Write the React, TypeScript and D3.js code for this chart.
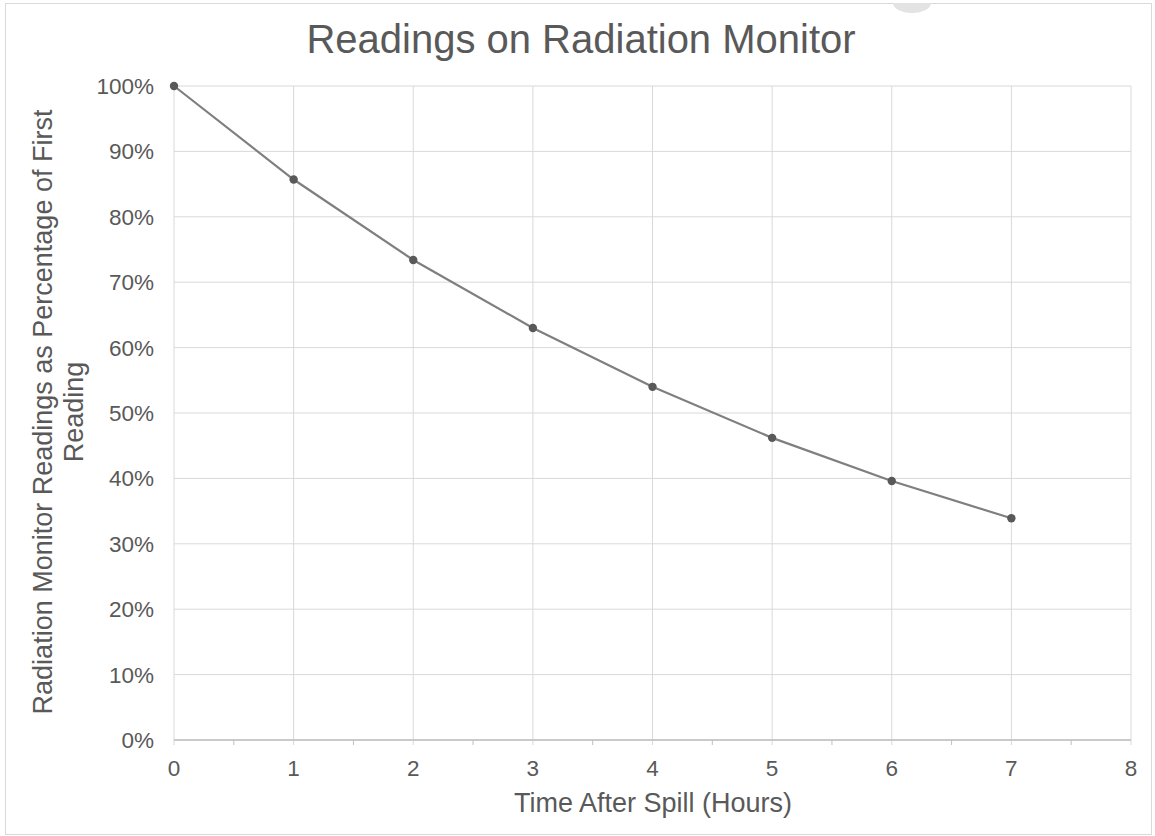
import React from "react";
import * as d3 from "d3";

const hours = [0, 1, 2, 3, 4, 5, 6, 7];
const readings = [1.0, 0.857, 0.734, 0.63, 0.54, 0.462, 0.396, 0.339];
const xTicks = [0, 1, 2, 3, 4, 5, 6, 7, 8];
const yTicks = [0, 0.1, 0.2, 0.3, 0.4, 0.5, 0.6, 0.7, 0.8, 0.9, 1.0];
const title = "Readings on Radiation Monitor";
const xTitle = "Time After Spill (Hours)";
const yTitleLines = ["Radiation Monitor Readings as Percentage of First", "Reading"];

export default function App() {
  const W = 1155, H = 836;
  const x = d3.scaleLinear().domain([0, 8]).range([174, 1131]);
  const y = d3.scaleLinear().domain([0, 1]).range([740, 86]);
  const line = d3.line<number>().x((_, i) => x(hours[i])).y((d) => y(d));
  const minor = d3.range(0, 8).map((d) => d + 0.5);
  const font = "'Liberation Sans', Arial, sans-serif";
  const txt = "#595959";
  return (
    <svg width={W} height={H} style={{ position: "absolute", left: 0, top: 0 }} fontFamily={font}>
      <rect x={0} y={0} width={W} height={H} fill="#fff" />
      <rect x={5.5} y={3.5} width={1146} height={831} fill="none" stroke="#d9d9d9" strokeWidth={1} />
      <path d="M893,3 A19,10 0 0 0 931,3 Z" fill="#e3e3e3" />
      <text x={581} y={53} textAnchor="middle" fontSize={40} fill={txt}>{title}</text>
      {yTicks.map((t) => (
        <line key={"gy" + t} x1={174} x2={1131} y1={y(t)} y2={y(t)} stroke="#d9d9d9" strokeWidth={1} />
      ))}
      {xTicks.map((t) => (
        <line key={"gx" + t} x1={x(t)} x2={x(t)} y1={86} y2={745} stroke="#d9d9d9" strokeWidth={1} />
      ))}
      <line x1={174} x2={1131} y1={740} y2={740} stroke="#bfbfbf" strokeWidth={1.5} />
      {minor.map((t) => (
        <line key={"m" + t} x1={x(t)} x2={x(t)} y1={740} y2={745} stroke="#bfbfbf" strokeWidth={1} />
      ))}
      {yTicks.map((t) => (
        <text key={"ly" + t} x={154} y={y(t) + 8} textAnchor="end" fontSize={22.5} fill={txt}>
          {Math.round(t * 100) + "%"}
        </text>
      ))}
      {xTicks.map((t) => (
        <text key={"lx" + t} x={x(t)} y={776} textAnchor="middle" fontSize={22.5} fill={txt}>
          {t}
        </text>
      ))}
      <text x={653} y={812} textAnchor="middle" fontSize={27} fill={txt}>{xTitle}</text>
      {yTitleLines.map((l, i) => (
        <text key={l} transform={`translate(${52 + i * 31},412) rotate(-90)`} textAnchor="middle" fontSize={27} fill={txt}>
          {l}
        </text>
      ))}
      <path d={line(readings) || ""} fill="none" stroke="#7f7f7f" strokeWidth={2.2} />
      {readings.map((v, i) => (
        <circle key={"p" + i} cx={x(hours[i])} cy={y(v)} r={4.2} fill="#595959" />
      ))}
    </svg>
  );
}
